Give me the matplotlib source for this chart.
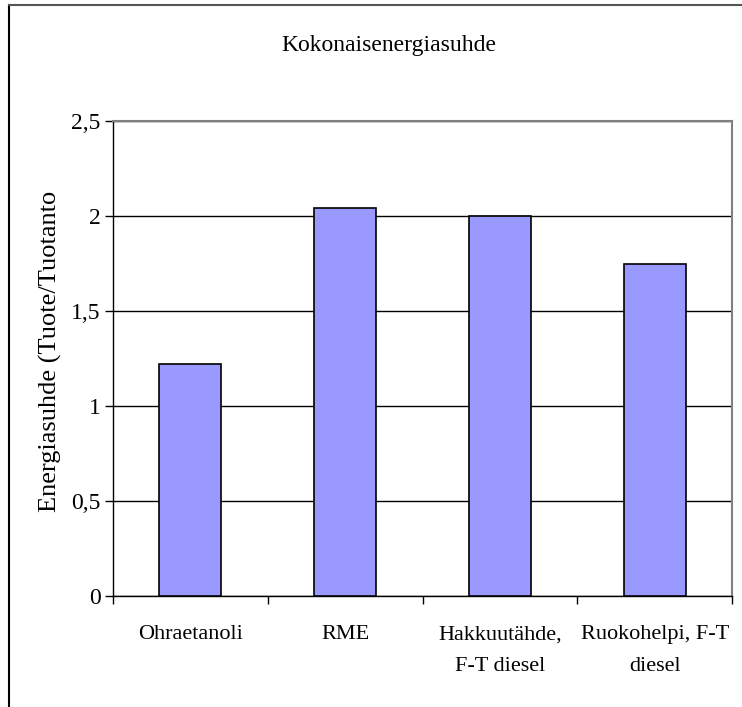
import matplotlib
matplotlib.use("Agg")
import matplotlib.pyplot as plt
from matplotlib.lines import Line2D

categories = ["Ohraetanoli", "RME", "Hakkuutähde,\nF-T diesel", "Ruokohelpi, F-T\ndiesel"]
values = [1.22, 2.04, 2.00, 1.75]
yticks = [0, 0.5, 1, 1.5, 2, 2.5]
ytick_labels = ["0", "0,5", "1", "1,5", "2", "2,5"]

plt.rcParams['font.family'] = ['Liberation Serif', 'DejaVu Serif']

fig = plt.figure(figsize=(7.42, 7.07), dpi=100)
ax = fig.add_axes([113/742, 1-596/707, (732-113)/742, (596-121)/707])

x = list(range(len(categories)))
ax.bar(x, values, width=0.4, color="#9999ff", edgecolor="black", linewidth=1.2, zorder=3)

ax.set_xlim(-0.5, len(categories)-0.5)
ax.set_ylim(0, 2.5)
ax.set_yticks(yticks)
ax.set_yticklabels(ytick_labels, fontsize=17)
ax.yaxis.grid(True, color="black", linewidth=1, zorder=0)
ax.tick_params(axis='y', direction='out', length=6, width=1, pad=3)

# category boundaries as ticks, labels centered between them
ax.set_xticks([i - 0.5 for i in range(len(categories)+1)])
ax.set_xticklabels([])
ax.set_xticks(x, minor=True)
ax.set_xticklabels(categories, minor=True, fontsize=16, linespacing=1.95)
ax.tick_params(axis='x', which='major', direction='out', length=6, width=1)
ax.tick_params(axis='x', which='minor', length=0, pad=21)

for s in ['top', 'right']:
    ax.spines[s].set_color("#808080")
    ax.spines[s].set_linewidth(1.5)
for s in ['left', 'bottom']:
    ax.spines[s].set_color("black")
    ax.spines[s].set_linewidth(1)

ax.set_ylabel("Energiasuhde (Tuote/Tuotanto", fontsize=19)
ax.yaxis.set_label_coords(-0.082, 0.516)

fig.text(389/742, 1-45/707, "Kokonaisenergiasuhde", ha="center", va="center", fontsize=17)

# outer chart frame (only left and top edges visible)
fig.add_artist(Line2D([9/742, 9/742], [0, 1-5/707], transform=fig.transFigure, color="black", linewidth=1.5))
fig.add_artist(Line2D([9/742, 1], [1-5/707, 1-5/707], transform=fig.transFigure, color="#555555", linewidth=1.5))

fig.savefig("out.png", dpi=100)
